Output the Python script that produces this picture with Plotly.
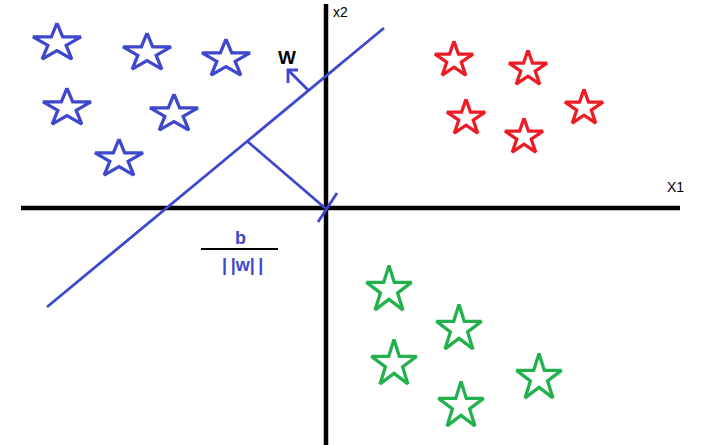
import numpy as np
import plotly.graph_objects as go

# ---- data (pixel-space diagram coordinates, y grows downward) ----
blue_x = [57, 147, 226, 67, 174, 119]
blue_y = [43, 53, 59, 108, 114, 159]
red_x = [454, 528, 466, 524, 584]
red_y = [60, 69, 118, 137, 108]
green_x = [389, 459, 394, 539, 461]
green_y = [290, 329, 364, 378, 406]

axis_x1 = [21, 680]
axis_x1_y = [208, 208]
axis_x2_x = [326, 326]
axis_x2 = [4, 445]
hyper_x = [47, 384]
hyper_y = [307, 28]
perp_x = [247, 325]
perp_y = [141, 208]
tick_x = [318, 337]
tick_y = [222, 193]
w_x = [308, 288]
w_y = [90, 70]
head_x = [298, 288, 288]
head_y = [70, 70, 83]
frac_x = [201, 278]
frac_y = [249, 249]

BLUE = "rgb(63,72,204)"
RED = "rgb(237,28,36)"
GREEN = "rgb(34,177,76)"


def star_path(cx, cy, rx, ry):
    xs, ys = [], []
    for k in range(11):
        ang = np.pi / 2 - k * np.pi / 5
        r = 1.0 if k % 2 == 0 else 0.382
        xs.append(cx + rx * r * np.cos(ang))
        ys.append(cy - ry * r * np.sin(ang))
    return xs, ys


fig = go.Figure()


def add_line(x, y, color, width):
    fig.add_trace(go.Scatter(x=x, y=y, mode="lines",
                             line=dict(color=color, width=width),
                             hoverinfo="skip", showlegend=False))


add_line(axis_x1, axis_x1_y, "black", 4.5)
add_line(axis_x2_x, axis_x2, "black", 4.5)
add_line(hyper_x, hyper_y, BLUE, 2.8)
add_line(perp_x, perp_y, BLUE, 2.8)
add_line(tick_x, tick_y, BLUE, 2.8)
add_line(w_x, w_y, BLUE, 2.8)
add_line(head_x, head_y, BLUE, 2.8)
add_line(frac_x, frac_y, "black", 2)

for xs_, ys_, col, rx, ry in [(blue_x, blue_y, BLUE, 25.2, 19.9),
                               (red_x, red_y, RED, 20.0, 18.8),
                               (green_x, green_y, GREEN, 23.7, 24.6)]:
    for cx, cy in zip(xs_, ys_):
        px, py = star_path(cx, cy, rx, ry)
        add_line(px, py, col, 3.3)

ann = [
    dict(x=287, y=57, text="<b>W</b>", font=dict(size=19, color="black")),
    dict(x=340, y=12, text="x2", font=dict(size=14, color="black")),
    dict(x=675, y=187, text="X1", font=dict(size=14, color="black")),
    dict(x=240, y=238, text="<b>b</b>", font=dict(size=18, color=BLUE)),
    dict(x=242, y=265, text="<b>|\u2009|w|\u2009|</b>", font=dict(size=18, color=BLUE)),
]
for a in ann:
    fig.add_annotation(xref="x", yref="y", showarrow=False,
                       xanchor="center", yanchor="middle", **a)

fig.update_layout(
    width=714, height=445,
    margin=dict(l=0, r=0, t=0, b=0),
    paper_bgcolor="white", plot_bgcolor="white",
    font=dict(family="Liberation Sans, Arial, sans-serif"),
    xaxis=dict(range=[0, 714], visible=False, fixedrange=True),
    yaxis=dict(range=[445, 0], visible=False, fixedrange=True),
    showlegend=False,
)

fig.write_html("out.html", config={"displayModeBar": False},
               post_script="document.body.style.margin='0';document.body.style.overflow='hidden';")
